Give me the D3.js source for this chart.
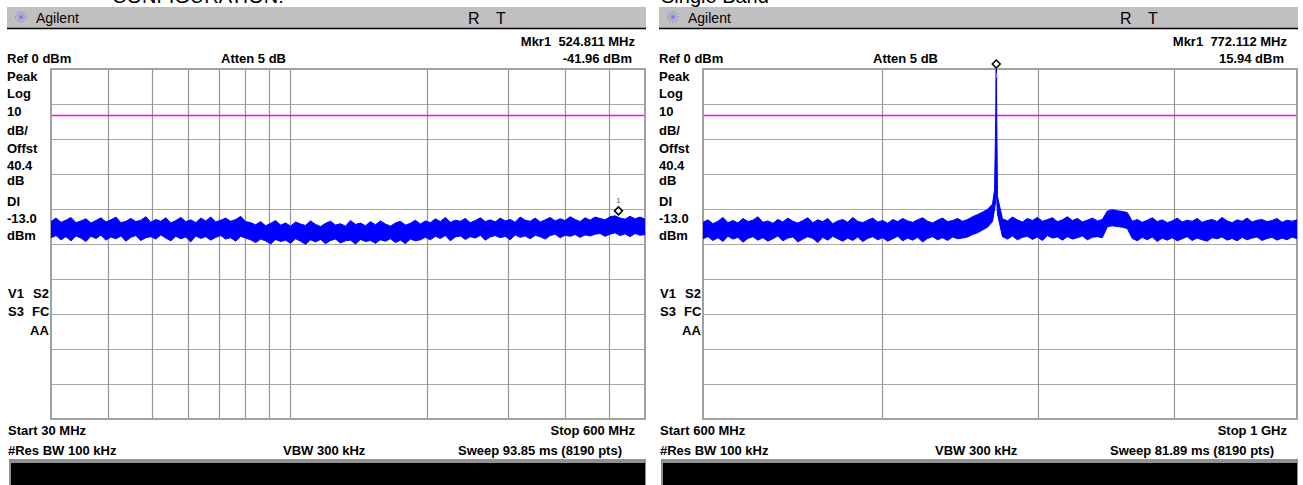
<!DOCTYPE html>
<html>
<head>
<meta charset="utf-8">
<script src="https://cdn.jsdelivr.net/npm/d3@7"></script>
<style>
  body { margin: 0; background: #fff; }
  svg text { font-family: "Liberation Sans", Arial, sans-serif; }
  .lbl { font-weight: bold; font-size: 13px; fill: #000; white-space: pre; }
</style>
</head>
<body>
<div id="chart"></div>
<script>
var width = 1303,
    height = 485;

// screen settings (same on both analyzer screens)
var refLevel = 0, dbPerDiv = 10, divisions = 10, displayLine = -13.0;
var sideLabels = ["Peak", "Log", "10", "dB/", "Offst", "40.4", "dB", "DI", "-13.0", "dBm"];

// left screen: 30 - 600 MHz, log sweep
var leftTitle = "CONFIGURATION:";
var leftSpan = [30, 600];
var leftGrid = [40, 50, 60, 70, 80, 90, 100, 200, 300, 400, 500];
var leftMarker = { freq: 524.811, level: -41.96 };
var leftText = { mkr: "Mkr1  524.811 MHz", mkrLevel: "-41.96 dBm", start: "Start 30 MHz", stop: "Stop 600 MHz", sweep: "Sweep 93.85 ms (8190 pts)" };
// trace envelope (max / min per sweep bucket), dBm
var leftHi = [
  -43.6,-42.6,-43.8,-43.2,-42.4,-43.9,-43.4,-42.8,-44.0,-43.3,
  -42.5,-43.7,-43.1,-42.3,-43.9,-43.5,-42.7,-43.6,-43.2,-42.2,
  -43.8,-43.0,-43.5,-42.5,-44.0,-43.3,-42.4,-43.6,-43.1,-43.9,
  -42.6,-43.4,-42.3,-43.7,-43.2,-42.6,-43.5,-43.0,-42.1,-43.6,
  -43.9,-44.5,-43.6,-44.8,-44.1,-43.3,-44.6,-44.0,-44.9,-43.7,
  -44.3,-44.7,-43.4,-44.4,-45.0,-44.1,-43.5,-44.6,-44.2,-44.9,
  -43.3,-44.4,-44.0,-44.8,-43.6,-44.5,-43.4,-44.3,-44.9,-44.0,
  -43.5,-44.6,-44.1,-43.2,-44.3,
  -43.4,-43.9,-42.8,-43.6,-42.4,-43.8,-43.2,-43.5,-42.7,-43.9,
  -43.3,-42.5,-43.6,-43.1,-43.7,-42.6,-43.4,-43.0,-43.8,-42.3,
  -43.2,-43.5,-42.6,-43.7,-43.1,-42.4,-43.4,-42.8,-43.3,-42.2,
  -43.0,-43.6,-42.5,-43.2,-42.3,
  -42.7,-43.1,-42.2,-41.96,-42.6,-42.9,-42.1,-42.8,-42.3,-42.9
];
var leftLo = [
  -48.2,-47.6,-48.8,-47.9,-49.1,-47.7,-48.3,-49.3,-47.8,-48.4,
  -47.5,-48.9,-48.0,-48.5,-47.7,-49.2,-48.1,-47.6,-49.0,-48.2,
  -47.9,-48.6,-47.4,-48.3,-49.1,-47.8,-48.5,-48.0,-49.4,-47.7,
  -48.4,-47.9,-48.9,-48.1,-47.6,-48.6,-48.2,-49.2,-47.8,-48.3,
  -48.8,-49.6,-48.6,-49.1,-50.0,-48.7,-49.3,-48.9,-49.8,-48.5,
  -49.2,-50.1,-48.8,-49.4,-48.7,-49.9,-49.0,-48.6,-49.7,-49.1,
  -48.9,-50.0,-48.7,-49.3,-49.0,-49.8,-48.8,-49.2,-48.5,-49.6,
  -48.9,-49.9,-48.6,-49.1,-48.8,
  -48.1,-48.8,-47.8,-48.4,-47.6,-49.1,-48.0,-47.7,-48.7,-47.9,
  -48.3,-47.5,-48.9,-48.0,-47.6,-48.2,-47.8,-48.8,-47.4,-48.1,
  -47.7,-48.5,-47.5,-47.9,-48.6,-47.6,-47.2,-48.2,-47.5,-47.8,
  -47.3,-48.1,-47.4,-47.7,-47.2,
  -47.0,-47.8,-47.2,-46.8,-47.6,-47.1,-47.9,-47.0,-47.5,-47.3
];

// right screen: 600 MHz - 1 GHz, log sweep
var rightTitle = "Single Band";
var rightSpan = [600, 1000];
var rightGrid = [700, 800, 900];
var rightMarker = { freq: 772.112, level: 15.94 };
var rightText = { mkr: "Mkr1  772.112 MHz", mkrLevel: "15.94 dBm", start: "Start 600 MHz", stop: "Stop 1 GHz", sweep: "Sweep 81.89 ms (8190 pts)" };
var rightHi = [
  -43.8,-43.1,-44.2,-43.5,-42.4,-43.9,-43.3,-44.0,-42.7,-43.6,
  -43.2,-42.2,-43.8,-43.4,-44.1,-43.0,-43.7,-42.6,-43.5,-44.0,
  -43.3,-42.5,-43.9,-43.1,-43.6,-42.7,-44.2,-43.4,-43.0,-43.8,
  -42.4,-43.5,-43.9,-43.2,-42.6,-43.7,-43.3,-44.1,-43.0,-43.6,
  -42.7,-43.4,-43.8,-43.1,-42.5,-43.5,-44.0,-43.2,-42.6,-43.6,
  -43.3,-42.7,-43.5,
  -43.0,-42.2,-41.6,-40.9,-40.1,-38.6,
  -36.5,
  -42.8,-43.4,-42.3,-43.1,-43.7,-42.7,-43.3,-42.4,-43.5,-43.0,
  -42.5,-43.6,-43.1,-42.2,-43.3,-42.7,-43.7,-43.2,-42.6,-43.4,
  -43.0,-40.6,-40.2,-40.5,-40.7,-41.0,
  -43.5,-43.0,-43.8,-43.2,-42.5,-43.6,-43.1,-43.9,-43.4,-42.6,
  -43.7,-43.2,-43.5,-42.7,-43.8,-43.3,-43.0,-43.6,-42.4,-43.4,
  -43.9,-43.1,-43.5,-42.6,-43.7,-43.2,-43.0,-43.6,-43.3,-42.7,
  -43.8,-43.2,-43.5,-43.1
];
var rightLo = [
  -48.5,-47.9,-49.0,-48.2,-49.3,-47.8,-48.6,-48.1,-49.5,-48.4,
  -47.9,-48.9,-48.2,-49.2,-48.5,-47.7,-49.1,-48.3,-48.0,-49.4,
  -48.6,-47.9,-48.4,-49.6,-48.1,-48.9,-47.8,-48.5,-49.2,-48.3,
  -49.0,-48.0,-49.3,-48.4,-47.9,-48.8,-48.2,-49.2,-48.5,-47.8,
  -49.1,-48.3,-48.9,-48.1,-49.4,-48.4,-47.9,-48.8,-48.2,-49.0,
  -48.0,-48.5,-48.3,
  -48.0,-47.3,-46.8,-46.0,-45.2,-43.6,
  -41.5,
  -47.9,-48.6,-47.7,-48.8,-48.1,-47.8,-48.7,-48.0,-49.0,-47.6,
  -48.3,-48.0,-48.9,-47.9,-48.6,-48.2,-47.7,-48.8,-48.1,-47.9,
  -48.2,-45.1,-44.8,-45.0,-45.2,-45.6,
  -48.4,-49.1,-48.1,-48.8,-48.0,-49.3,-48.3,-48.9,-48.2,-49.1,
  -48.5,-47.9,-49.0,-48.3,-48.8,-49.2,-48.2,-48.5,-48.0,-48.9,
  -48.4,-49.1,-48.1,-48.8,-48.3,-48.0,-49.0,-48.4,-48.1,-48.9,
  -48.3,-48.8,-48.0,-48.5
];
// carrier at the marker (inserted into the right trace)
var carrierFreq = [771.0, 771.8, 772.112, 772.4];
var carrierHi = [-34.5, -12.0, 15.94, -12.0];
var carrierLo = [-40.0, -37.5, -36.0, -37.0];

var svg = d3.select("#chart")
    .append("svg")
    .attr("width", width)
    .attr("height", height);

function sweepPoints(span, hi, lo) {
    var n = hi.length;
    return hi.map(function (h, i) {
        // log sweep: buckets evenly spaced in log frequency
        return { f: span[0] * Math.pow(span[1] / span[0], i / (n - 1)), hi: h, lo: lo[i] };
    });
}

function drawPanel(ox, id, title, span, gridFreqs, pts, marker, txt) {
    var g = svg.append("g").attr("transform", "translate(" + ox + ",0)");
    var left = 51, right = 645, top = 69, bottom = 419;

    var x = d3.scaleLog().domain(span).range([left, right]);
    var y = d3.scaleLinear().domain([refLevel - dbPerDiv * divisions, refLevel]).range([bottom, top]);

    // cut-off caption above the screen
    g.append("text").attr("x", id === "L" ? 112 : 9).attr("y", 3)
        .style("font-size", "20px").text(title);

    // title bar
    g.append("rect").attr("x", 7).attr("y", 7).attr("width", 639).attr("height", 21).attr("fill", "#c0c0c0");
    g.append("line").attr("x1", 7).attr("x2", 646).attr("y1", 28.5).attr("y2", 28.5)
        .attr("stroke", "#000").attr("stroke-width", 1.5);
    var logo = g.append("g").attr("transform", "translate(21,17)");
    d3.range(0, 180, 30).forEach(function (a) {
        var r = a * Math.PI / 180;
        logo.append("line")
            .attr("x1", -6 * Math.cos(r)).attr("y1", -6 * Math.sin(r))
            .attr("x2", 6 * Math.cos(r)).attr("y2", 6 * Math.sin(r))
            .attr("stroke", "#4646ff").attr("stroke-width", 0.7)
            .attr("stroke-dasharray", "1,1.2");
    });
    g.append("text").attr("x", 36).attr("y", 23).style("font-size", "14px").text("Agilent");
    g.append("text").attr("x", 468).attr("y", 24).style("font-size", "16px").text("R");
    g.append("text").attr("x", 496).attr("y", 24).style("font-size", "16px").text("T");

    // header texts
    g.append("text").attr("class", "lbl").attr("x", 7).attr("y", 63).text("Ref 0 dBm");
    g.append("text").attr("class", "lbl").attr("x", 221).attr("y", 63).text("Atten 5 dB");
    g.append("text").attr("class", "lbl").attr("x", 635).attr("y", 46).attr("text-anchor", "end").text(txt.mkr);
    g.append("text").attr("class", "lbl").attr("x", 632).attr("y", 63).attr("text-anchor", "end").text(txt.mkrLevel);

    // side annotations
    var sideY = [81, 98, 116, 135, 153, 170, 185, 206, 223, 240];
    sideLabels.forEach(function (s, i) {
        g.append("text").attr("class", "lbl").attr("x", 7).attr("y", sideY[i]).text(s);
    });
    g.append("text").attr("class", "lbl").attr("x", 8).attr("y", 298).text("V1");
    g.append("text").attr("class", "lbl").attr("x", 33).attr("y", 298).text("S2");
    g.append("text").attr("class", "lbl").attr("x", 8).attr("y", 316).text("S3");
    g.append("text").attr("class", "lbl").attr("x", 32).attr("y", 316).text("FC");
    g.append("text").attr("class", "lbl").attr("x", 30).attr("y", 335).text("AA");

    // graticule
    g.append("g").selectAll("line")
        .data(d3.range(1, divisions))
        .enter().append("line")
        .attr("x1", left).attr("x2", right)
        .attr("y1", function (d) { return Math.round(y(refLevel - d * dbPerDiv)) + 0.5; })
        .attr("y2", function (d) { return Math.round(y(refLevel - d * dbPerDiv)) + 0.5; })
        .attr("stroke", "#a8a8a8").attr("stroke-width", 1.2);
    g.append("g").selectAll("line")
        .data(gridFreqs)
        .enter().append("line")
        .attr("x1", function (d) { return Math.round(x(d)) + 0.5; })
        .attr("x2", function (d) { return Math.round(x(d)) + 0.5; })
        .attr("y1", top).attr("y2", bottom)
        .attr("stroke", "#969696").attr("stroke-width", 1.2);
    g.append("rect").attr("x", left).attr("y", top).attr("width", right - left).attr("height", bottom - top)
        .attr("fill", "none").attr("stroke", "#a0a0a0").attr("stroke-width", 2);

    // display line
    g.append("line").attr("x1", left + 1).attr("x2", right - 1)
        .attr("y1", Math.round(y(displayLine)) + 0.5).attr("y2", Math.round(y(displayLine)) + 0.5)
        .attr("stroke", "#ff00ff").attr("stroke-width", 1.4);

    // trace
    g.append("clipPath").attr("id", "clip" + id)
        .append("rect").attr("x", left).attr("y", top).attr("width", right - left).attr("height", bottom - top);
    var area = d3.area()
        .x(function (d) { return x(d.f); })
        .y0(function (d) { return y(d.lo); })
        .y1(function (d) { return y(d.hi); });
    g.append("path")
        .datum(pts)
        .attr("clip-path", "url(#clip" + id + ")")
        .attr("d", area)
        .attr("fill", "#0000ff")
        .attr("stroke", "#0000ff")
        .attr("stroke-width", 1);

    // marker
    var mx = x(marker.freq),
        my = Math.max(y(marker.level), top) - 5;
    g.append("path")
        .attr("d", "M" + mx + "," + (my - 4) + "L" + (mx + 4) + "," + my + "L" + mx + "," + (my + 4) + "L" + (mx - 4) + "," + my + "Z")
        .attr("fill", "#fff").attr("stroke", "#000").attr("stroke-width", 1.5);
    g.append("text").attr("x", mx).attr("y", id === "L" ? my - 8 : my + 14)
        .attr("text-anchor", "middle").style("font-size", "8px")
        .attr("fill", id === "L" ? "#555" : "#9090ff").text("1");

    // footer
    g.append("text").attr("class", "lbl").attr("x", 8).attr("y", 435).text(txt.start);
    g.append("text").attr("class", "lbl").attr("x", 635).attr("y", 435).attr("text-anchor", "end").text(txt.stop);
    g.append("text").attr("class", "lbl").attr("x", 8).attr("y", 455).text("#Res BW 100 kHz");
    g.append("text").attr("class", "lbl").attr("x", 283).attr("y", 455).text("VBW 300 kHz");
    g.append("text").attr("class", "lbl").attr("x", 622).attr("y", 455).attr("text-anchor", "end").text(txt.sweep);

    // message bar
    g.append("rect").attr("x", 9).attr("y", 459).attr("width", 637).attr("height", 30).attr("fill", "#909090");
    g.append("rect").attr("x", 11).attr("y", 463).attr("width", 634).attr("height", 30).attr("fill", "#000");
}

var leftPts = sweepPoints(leftSpan, leftHi, leftLo);
var rightPts = sweepPoints(rightSpan, rightHi, rightLo)
    .concat(carrierFreq.map(function (f, i) { return { f: f, hi: carrierHi[i], lo: carrierLo[i] }; }))
    .sort(function (a, b) { return a.f - b.f; });

drawPanel(0, "L", leftTitle, leftSpan, leftGrid, leftPts, leftMarker, leftText);
drawPanel(652, "R", rightTitle, rightSpan, rightGrid, rightPts, rightMarker, rightText);
</script>
</body>
</html>
